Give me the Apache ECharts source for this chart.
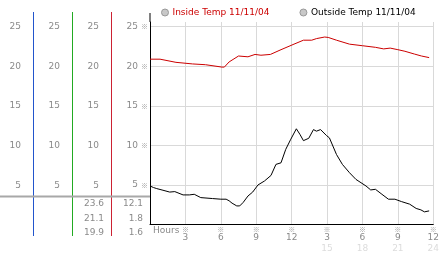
<!DOCTYPE html>
<html>
<head>
<meta charset="utf-8">
<script src="https://cdn.jsdelivr.net/npm/echarts@6/dist/echarts.min.js"></script>
<style>
  html, body { margin: 0; padding: 0; background: #fff; }
  #chart { width: 442px; height: 253px; }
</style>
</head>
<body>
<div id="chart"></div>
<script>
// series (hours since midnight, deg)
var insideHours = [0, 0.85, 2.2, 3.6, 4.7, 6.1, 6.3, 6.7, 7.5, 8.3, 8.9, 9.4, 10.2, 11.1, 12.2, 13.0, 13.7, 14.1, 14.8, 15.1, 15.8, 16.9, 18.0, 19.1, 19.8, 20.35, 21.0, 21.6, 22.4, 23.0, 23.65];
var insideTemps = [20.9, 20.9, 20.5, 20.3, 20.2, 19.9, 19.9, 20.55, 21.3, 21.2, 21.5, 21.4, 21.5, 22.1, 22.8, 23.3, 23.3, 23.5, 23.7, 23.65, 23.3, 22.8, 22.6, 22.4, 22.2, 22.3, 22.1, 21.9, 21.55, 21.3, 21.1];

var outsideHours = [0, 0.3, 0.57, 1.1, 1.67, 2.1, 2.8, 3.33, 3.75, 4.3, 5.3, 6.0, 6.45, 6.7, 6.95, 7.35, 7.6, 7.9, 8.3, 8.7, 9.15, 9.7, 10.25, 10.67, 11.1, 11.5, 11.9, 12.4, 12.7, 13.0, 13.45, 13.85, 14.1, 14.45, 14.95, 15.2, 15.8, 16.3, 16.9, 17.45, 18.3, 18.7, 19.1, 19.65, 20.2, 20.75, 21.3, 22.0, 22.55, 22.95, 23.25, 23.65];
var outsideTemps = [4.87, 4.67, 4.54, 4.33, 4.1, 4.16, 3.74, 3.74, 3.82, 3.4, 3.28, 3.2, 3.2, 3.0, 2.7, 2.35, 2.35, 2.8, 3.6, 4.1, 5.0, 5.5, 6.2, 7.6, 7.8, 9.5, 10.7, 12.1, 11.4, 10.6, 10.9, 12.0, 11.8, 12.0, 11.25, 10.95, 8.85, 7.6, 6.55, 5.7, 4.87, 4.37, 4.45, 3.82, 3.2, 3.2, 2.9, 2.57, 2.03, 1.85, 1.6, 1.72];

// tick labels
var yTicks = [5, 10, 15, 20, 25];
var hourLabels = ['', '3', '6', '9', '12', '3', '6', '9', '12'];
var dayHourLabels = ['', '', '', '', '', '15', '18', '21', '24'];

// max / current / min shown under the side panels
var insideStats = ['23.6', '21.1', '19.9'];
var outsideStats = ['12.1', '1.8', '1.6'];

var insideName = 'Inside Temp 11/11/04';
var outsideName = 'Outside Temp 11/11/04';

var font = 'DejaVu Sans';
var markFont = 'Noto Sans CJK SC';
var labelGray = '#8a8a8a';

function pairs(xs, ys) {
  return xs.map(function (x, i) { return [x, ys[i]]; });
}

function sideAxis(offset) {
  return {
    type: 'value',
    gridIndex: 1,
    position: 'left',
    offset: offset,
    min: -1.39,
    max: 26.86,
    axisLine: { show: false },
    axisTick: { show: false },
    splitLine: { show: false },
    axisLabel: {
      customValues: yTicks,
      margin: 12,
      color: labelGray,
      fontFamily: font,
      fontSize: 9
    }
  };
}

// coloured divider between side panels
function divider(x, color) {
  return {
    type: 'line',
    z: 50,
    shape: { x1: x, y1: 12, x2: x, y2: 236 },
    style: { stroke: color, lineWidth: 1 }
  };
}

var chart = echarts.init(document.getElementById('chart'));

var statTexts = [];
[insideStats, outsideStats].forEach(function (col, c) {
  col.forEach(function (txt, r) {
    statTexts.push({
      type: 'text',
      x: c === 0 ? 104 : 143,
      y: 204 + r * 14.2,
      style: {
        text: txt,
        fill: labelGray,
        font: '9px "DejaVu Sans"',
        align: 'right',
        verticalAlign: 'middle'
      }
    });
  });
});

chart.setOption({
  animation: false,
  backgroundColor: '#fff',
  legend: {
    left: 156,
    top: 3,
    itemWidth: 7,
    itemHeight: 7,
    itemGap: 30,
    icon: 'circle',
    itemStyle: { color: '#c8c8c8', borderColor: '#999', borderWidth: 1 },
    textStyle: { fontFamily: font, fontSize: 9, padding: [0, 0, 0, -1] },
    data: [
      { name: insideName, textStyle: { color: '#cc0000' } },
      { name: outsideName, textStyle: { color: '#000' } }
    ]
  },
  grid: [
    { left: 150, right: 3, top: 22, bottom: 28 },
    { left: 111, width: 38, top: 12, bottom: 17, show: false }
  ],
  xAxis: [
    {
      type: 'value',
      min: 0,
      max: 24,
      interval: 3,
      axisLine: { lineStyle: { color: '#000', width: 1 } },
      axisTick: { show: false },
      splitLine: { show: true, lineStyle: { color: '#d9d9d9', width: 1 } },
      axisLabel: {
        margin: 1,
        showMinLabel: false,
        formatter: function (v) {
          var i = Math.round(v / 3);
          if (i === 0) return '';
          var s = '{t|※}\n{n|' + hourLabels[i] + '}';
          if (dayHourLabels[i]) s += '\n{g|' + dayHourLabels[i] + '}';
          return s;
        },
        rich: {
          t: { fontFamily: markFont, fontSize: 7, lineHeight: 7, color: '#999' },
          n: { fontFamily: font, fontSize: 9, lineHeight: 10, color: labelGray },
          g: { fontFamily: font, fontSize: 9, lineHeight: 12, color: '#dcdcdc' }
        }
      }
    },
    { type: 'value', gridIndex: 1, show: false, min: 0, max: 1 }
  ],
  yAxis: [
    {
      type: 'value',
      min: 0,
      max: 25.6,
      interval: 5,
      axisLine: { show: true, lineStyle: { color: '#000', width: 1 } },
      axisTick: { show: false },
      splitLine: { show: true, showMaxLine: false, showMinLine: false, lineStyle: { color: '#d9d9d9', width: 1 } },
      axisLabel: {
        margin: 2,
        showMinLabel: false,
        showMaxLabel: false,
        formatter: function (v) { return '{v|' + v + '}{s|※}'; },
        rich: {
          v: { fontFamily: font, fontSize: 9, color: labelGray },
          s: { fontFamily: markFont, fontSize: 7, color: '#999', padding: [0, 0, 0, 3] }
        }
      }
    },
    sideAxis(0),
    sideAxis(39),
    sideAxis(78)
  ],
  graphic: [
    divider(33.5, '#2255cc'),
    divider(72.5, '#22aa22'),
    divider(111.5, '#cc2233'),
    // y axis line runs a little above the plot
    { type: 'line', shape: { x1: 150, y1: 13, x2: 150, y2: 22 }, style: { stroke: '#000', lineWidth: 1 } },
    // separator under the side panels
    { type: 'line', z: 100, shape: { x1: 0, y1: 196.5, x2: 150, y2: 196.5 }, style: { stroke: '#a8a8a8', lineWidth: 2 } },
    {
      type: 'text', x: 153, y: 231,
      style: { text: 'Hours', fill: labelGray, font: '9px "DejaVu Sans"', verticalAlign: 'middle' }
    }
  ].concat(statTexts),
  series: [
    {
      name: insideName,
      type: 'line',
      symbol: 'none',
      lineStyle: { color: '#cc0000', width: 1 },
      itemStyle: { color: '#cc0000' },
      data: pairs(insideHours, insideTemps)
    },
    {
      name: outsideName,
      type: 'line',
      symbol: 'none',
      lineStyle: { color: '#000', width: 1 },
      itemStyle: { color: '#000' },
      data: pairs(outsideHours, outsideTemps)
    }
  ]
});
</script>
</body>
</html>
